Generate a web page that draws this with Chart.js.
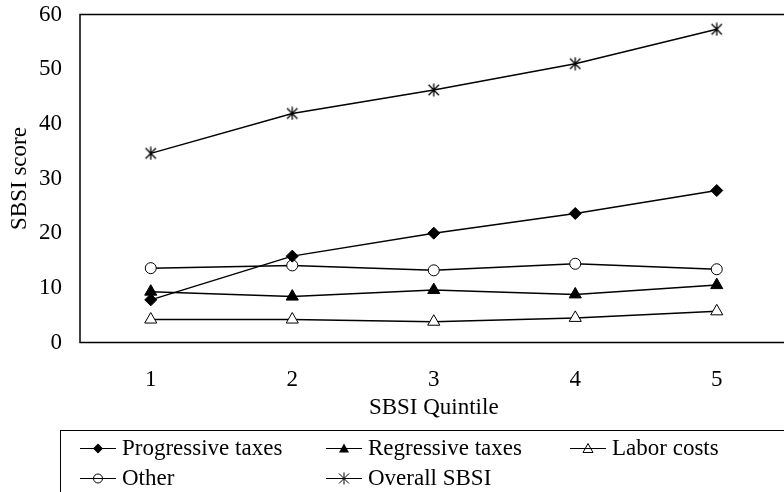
<!DOCTYPE html>
<html>
<head>
<meta charset="utf-8">
<script src="https://cdn.jsdelivr.net/npm/chart.js@4/dist/chart.umd.min.js"></script>
<style>
  html, body { margin: 0; padding: 0; background: #fff; overflow: hidden; }
  #wrap { position: relative; width: 800px; height: 500px; }
</style>
</head>
<body>
<div id="wrap"><canvas id="sbsiChart" width="800" height="500"></canvas></div>
<script>
// data
const quintiles = ["1", "2", "3", "4", "5"];
const progressiveTaxes = [7.8, 15.8, 20.0, 23.6, 27.8];
const regressiveTaxes = [9.3, 8.4, 9.6, 8.8, 10.5];
const laborCosts = [4.2, 4.2, 3.8, 4.5, 5.7];
const otherCosts = [13.6, 14.1, 13.2, 14.4, 13.4];
const overallSBSI = [34.6, 41.9, 46.2, 51.0, 57.3];
const yTicks = [0, 10, 20, 30, 40, 50, 60];

const FONT = "'Liberation Serif', 'Times New Roman', serif";
const FS = 23;

// six-armed asterisk used by "Overall SBSI"
function makeStar(size) {
  let c = document.createElement("canvas");
  c.width = size;
  c.height = size;
  let g = c.getContext("2d");
  let m = size / 2;
  let r = size / 2 - 0.5;
  g.strokeStyle = "#000";
  g.lineWidth = 1.3;
  g.beginPath();
  g.moveTo(m, m - r); g.lineTo(m, m + r);
  let d = r * 0.8;
  g.moveTo(m - d, m - d); g.lineTo(m + d, m + d);
  g.moveTo(m + d, m - d); g.lineTo(m - d, m + d);
  g.stroke();
  return c;
}

// small marker for the legend
function legendMarker(ctx, kind, x, y) {
  ctx.save();
  ctx.strokeStyle = "#000";
  ctx.fillStyle = "#000";
  ctx.lineWidth = 1;
  ctx.beginPath();
  if (kind === "diamond") {
    ctx.moveTo(x, y - 5); ctx.lineTo(x + 5, y); ctx.lineTo(x, y + 5); ctx.lineTo(x - 5, y);
    ctx.closePath(); ctx.fill();
  } else if (kind === "triFill" || kind === "triOpen") {
    ctx.moveTo(x, y - 5); ctx.lineTo(x + 5, y + 4); ctx.lineTo(x - 5, y + 4);
    ctx.closePath();
    if (kind === "triFill") ctx.fill();
    else ctx.stroke();
  } else if (kind === "circle") {
    ctx.arc(x, y, 4.5, 0, Math.PI * 2);
    ctx.stroke();
  } else if (kind === "star") {
    ctx.moveTo(x, y - 6); ctx.lineTo(x, y + 6);
    ctx.moveTo(x - 5, y - 5); ctx.lineTo(x + 5, y + 5);
    ctx.moveTo(x + 5, y - 5); ctx.lineTo(x - 5, y + 5);
    ctx.stroke();
  }
  ctx.restore();
}

const legendItems = [
  { label: "Progressive taxes", kind: "diamond", col: 0, row: 0 },
  { label: "Regressive taxes", kind: "triFill", col: 1, row: 0 },
  { label: "Labor costs", kind: "triOpen", col: 2, row: 0 },
  { label: "Other", kind: "circle", col: 0, row: 1 },
  { label: "Overall SBSI", kind: "star", col: 1, row: 1 },
];

// plot frame + boxed legend
const framePlugin = {
  id: "frame",
  afterDatasetsDraw(chart) {
    let ctx = chart.ctx;
    let a = chart.chartArea;
    ctx.save();
    ctx.strokeStyle = "#000";
    ctx.lineWidth = 1.5;
    ctx.strokeRect(a.left, a.top, a.right - a.left, a.bottom - a.top);
    ctx.restore();
  },
  afterDraw(chart) {
    let ctx = chart.ctx;
    ctx.save();
    ctx.strokeStyle = "#000";
    ctx.lineWidth = 1;
    ctx.strokeRect(60.5, 430.5, 900, 200);
    let colX = [80, 326, 570];
    let rowY = [448, 478];
    ctx.font = FS + "px " + FONT;
    ctx.textBaseline = "middle";
    ctx.fillStyle = "#000";
    legendItems.forEach((it) => {
      let x = colX[it.col];
      let y = rowY[it.row];
      ctx.beginPath();
      ctx.moveTo(x, y + 0.5);
      ctx.lineTo(x + 36, y + 0.5);
      ctx.stroke();
      legendMarker(ctx, it.kind, x + 18, y + 0.5);
      ctx.fillText(it.label, x + 42, y + 1);
    });
    ctx.restore();
  },
};

function series(label, data, style, radius, bg) {
  return {
    label: label,
    data: data,
    borderColor: "#000",
    borderWidth: 1.5,
    pointStyle: style,
    pointRadius: radius,
    pointHoverRadius: radius,
    pointBackgroundColor: bg,
    pointBorderColor: "#000",
    pointBorderWidth: 1,
    tension: 0,
  };
}

let ctx = document.getElementById("sbsiChart").getContext("2d");
new Chart(ctx, {
  type: "line",
  data: {
    labels: quintiles,
    datasets: [
      series("Progressive taxes", progressiveTaxes, "rectRot", 6, "#000"),
      series("Regressive taxes", regressiveTaxes, "triangle", 7, "#000"),
      series("Labor costs", laborCosts, "triangle", 7, "#fff"),
      series("Other", otherCosts, "circle", 5.5, "#fff"),
      series("Overall SBSI", overallSBSI, makeStar(14), 7, "#000"),
    ],
  },
  options: {
    responsive: false,
    animation: false,
    layout: { padding: { top: 14.5, left: 0, right: 12.5, bottom: 57.5 } },
    plugins: {
      legend: { display: false },
      tooltip: { enabled: false },
    },
    scales: {
      x: {
        offset: true,
        grid: { display: false, drawTicks: false },
        border: { display: false },
        ticks: { color: "#000", font: { family: FONT, size: FS }, padding: 24 },
        title: {
          display: true,
          text: "SBSI Quintile",
          color: "#000",
          font: { family: FONT, size: FS },
          padding: { top: 0, bottom: 21 },
        },
        afterFit(scale) {
          scale.height = 100;
          scale.paddingLeft = 0;
          scale.paddingRight = 0;
        },
      },
      y: {
        min: 0,
        max: 60,
        afterBuildTicks(scale) { scale.ticks = yTicks.map((v) => ({ value: v })); },
        grid: { display: false, drawTicks: false },
        border: { display: false },
        ticks: { color: "#000", font: { family: FONT, size: FS }, padding: 18 },
        title: {
          display: true,
          text: "SBSI score",
          color: "#000",
          font: { family: FONT, size: FS },
          padding: { top: 6, bottom: 0 },
        },
        afterFit(scale) {
          scale.width = 80;
          scale.paddingTop = 0;
          scale.paddingBottom = 0;
        },
      },
    },
  },
  plugins: [framePlugin],
});
</script>
</body>
</html>
